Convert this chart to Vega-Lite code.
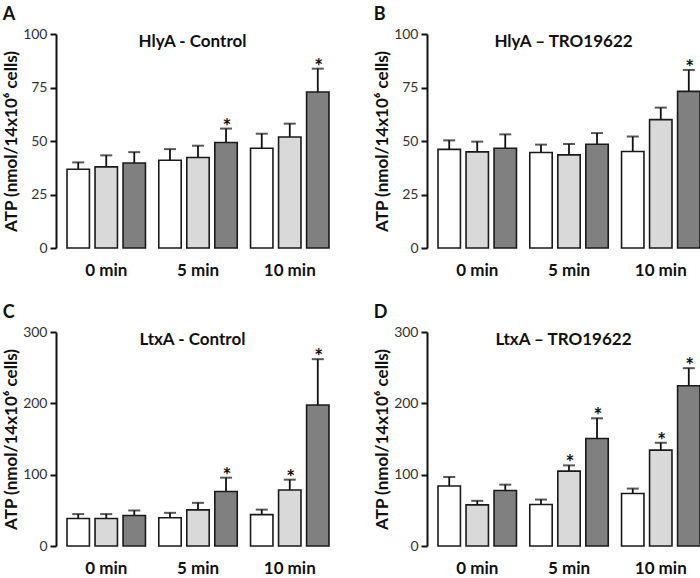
{
  "$schema": "https://vega.github.io/schema/vega-lite/v6.json",
  "padding": {"left": 2, "top": 6, "right": 0, "bottom": 0},
  "background": "white",
  "config": {
    "font": "Lato",
    "view": {"stroke": null},
    "axisY": {
      "domainColor": "#111111", "domainWidth": 2,
      "tickColor": "#111111", "tickWidth": 2, "tickSize": 6,
      "labelFontSize": 14, "labelColor": "#333333", "labelPadding": 3,
      "grid": false,
      "titleFontSize": 17, "titleFontWeight": "bold", "titleColor": "#111111", "titlePadding": 2
    },
    "axisX": {
      "domain": false, "ticks": false, "grid": false,
      "labelFontSize": 17, "labelFontWeight": "bold", "labelColor": "#111111",
      "labelPadding": 14, "labelAngle": 0, "title": null
    }
  },
  "data": {"values": [
    {"panel": "A", "time": "0 min", "series": 1, "value": 36.8, "err": 40.0, "star": false},
    {"panel": "A", "time": "0 min", "series": 2, "value": 37.9, "err": 43.3, "star": false},
    {"panel": "A", "time": "0 min", "series": 3, "value": 39.7, "err": 44.8, "star": false},
    {"panel": "A", "time": "5 min", "series": 1, "value": 41.0, "err": 46.2, "star": false},
    {"panel": "A", "time": "5 min", "series": 2, "value": 42.3, "err": 47.8, "star": false},
    {"panel": "A", "time": "5 min", "series": 3, "value": 49.3, "err": 55.8, "star": true},
    {"panel": "A", "time": "10 min", "series": 1, "value": 46.6, "err": 53.4, "star": false},
    {"panel": "A", "time": "10 min", "series": 2, "value": 51.9, "err": 58.1, "star": false},
    {"panel": "A", "time": "10 min", "series": 3, "value": 72.9, "err": 83.8, "star": true},
    {"panel": "B", "time": "0 min", "series": 1, "value": 46.1, "err": 50.3, "star": false},
    {"panel": "B", "time": "0 min", "series": 2, "value": 44.9, "err": 49.7, "star": false},
    {"panel": "B", "time": "0 min", "series": 3, "value": 46.6, "err": 53.1, "star": false},
    {"panel": "B", "time": "5 min", "series": 1, "value": 44.6, "err": 48.3, "star": false},
    {"panel": "B", "time": "5 min", "series": 2, "value": 43.5, "err": 48.6, "star": false},
    {"panel": "B", "time": "5 min", "series": 3, "value": 48.5, "err": 53.7, "star": false},
    {"panel": "B", "time": "10 min", "series": 1, "value": 45.1, "err": 52.1, "star": false},
    {"panel": "B", "time": "10 min", "series": 2, "value": 60.0, "err": 65.6, "star": false},
    {"panel": "B", "time": "10 min", "series": 3, "value": 73.2, "err": 83.2, "star": true},
    {"panel": "C", "time": "0 min", "series": 1, "value": 38.6, "err": 44.7, "star": false},
    {"panel": "C", "time": "0 min", "series": 2, "value": 38.6, "err": 44.7, "star": false},
    {"panel": "C", "time": "0 min", "series": 3, "value": 42.8, "err": 49.8, "star": false},
    {"panel": "C", "time": "5 min", "series": 1, "value": 39.5, "err": 46.5, "star": false},
    {"panel": "C", "time": "5 min", "series": 2, "value": 50.7, "err": 60.5, "star": false},
    {"panel": "C", "time": "5 min", "series": 3, "value": 76.3, "err": 95.8, "star": true},
    {"panel": "C", "time": "10 min", "series": 1, "value": 44.0, "err": 51.0, "star": false},
    {"panel": "C", "time": "10 min", "series": 2, "value": 78.6, "err": 93.0, "star": true},
    {"panel": "C", "time": "10 min", "series": 3, "value": 197.7, "err": 261.9, "star": true},
    {"panel": "D", "time": "0 min", "series": 1, "value": 84.2, "err": 96.7, "star": false},
    {"panel": "D", "time": "0 min", "series": 2, "value": 57.7, "err": 63.3, "star": false},
    {"panel": "D", "time": "0 min", "series": 3, "value": 77.7, "err": 86.0, "star": false},
    {"panel": "D", "time": "5 min", "series": 1, "value": 58.1, "err": 65.1, "star": false},
    {"panel": "D", "time": "5 min", "series": 2, "value": 105.0, "err": 113.0, "star": true},
    {"panel": "D", "time": "5 min", "series": 3, "value": 150.7, "err": 179.0, "star": true},
    {"panel": "D", "time": "10 min", "series": 1, "value": 73.5, "err": 80.5, "star": false},
    {"panel": "D", "time": "10 min", "series": 2, "value": 134.4, "err": 144.7, "star": true},
    {"panel": "D", "time": "10 min", "series": 3, "value": 224.7, "err": 249.3, "star": true}
  ]},
  "columns": 2,
  "spacing": {"column": 43, "row": 26},
  "concat": [
    {
      "title": {"text": "A", "anchor": "start", "fontSize": 18, "fontWeight": "bold", "color": "#111111", "offset": 3},
      "vconcat": [{
        "title": {"text": "HlyA - Control", "fontSize": 17, "fontWeight": "bold", "color": "#111111", "anchor": "middle", "frame": "group", "offset": -24},
        "width": 273, "height": 214,
        "transform": [{"filter": "datum.panel === 'A'"}],
        "encoding": {
          "x": {"field": "time", "type": "nominal", "sort": ["0 min", "5 min", "10 min"], "scale": {"paddingInner": 0.145, "paddingOuter": 0.06, "align": 1}},
          "xOffset": {"field": "series", "type": "nominal", "scale": {"paddingInner": 0.2}},
          "y": {"field": "value", "type": "quantitative", "scale": {"domain": [0, 100], "nice": false}, "axis": {"values": [0, 25, 50, 75, 100], "title": "ATP (nmol/14x10⁶ cells)"}}
        },
        "layer": [
          {"mark": {"type": "rule", "strokeWidth": 1.8, "color": "#111111"}, "encoding": {"y2": {"field": "err"}}},
          {"mark": {"type": "tick", "orient": "horizontal", "size": 12, "thickness": 2, "color": "#111111"}, "encoding": {"y": {"field": "err", "type": "quantitative"}}},
          {"mark": {"type": "bar", "stroke": "#1a1a1a", "strokeWidth": 1.6}, "encoding": {"fill": {"field": "series", "type": "nominal", "scale": {"range": ["#ffffff", "#d9d9d9", "#808080"]}, "legend": null}}},
          {"transform": [{"filter": "datum.star"}], "mark": {"type": "text", "text": "*", "fontSize": 21, "fontWeight": "bold", "baseline": "alphabetic", "dy": 5, "dx": 1, "color": "#111111"}, "encoding": {"y": {"field": "err", "type": "quantitative"}}}
        ]
      }]
    },
    {
      "title": {"text": "B", "anchor": "start", "fontSize": 18, "fontWeight": "bold", "color": "#111111", "offset": 3},
      "vconcat": [{
        "title": {"text": "HlyA – TRO19622", "fontSize": 17, "fontWeight": "bold", "color": "#111111", "anchor": "middle", "frame": "group", "offset": -24},
        "width": 273, "height": 214,
        "transform": [{"filter": "datum.panel === 'B'"}],
        "encoding": {
          "x": {"field": "time", "type": "nominal", "sort": ["0 min", "5 min", "10 min"], "scale": {"paddingInner": 0.145, "paddingOuter": 0.06, "align": 1}},
          "xOffset": {"field": "series", "type": "nominal", "scale": {"paddingInner": 0.2}},
          "y": {"field": "value", "type": "quantitative", "scale": {"domain": [0, 100], "nice": false}, "axis": {"values": [0, 25, 50, 75, 100], "title": "ATP (nmol/14x10⁶ cells)"}}
        },
        "layer": [
          {"mark": {"type": "rule", "strokeWidth": 1.8, "color": "#111111"}, "encoding": {"y2": {"field": "err"}}},
          {"mark": {"type": "tick", "orient": "horizontal", "size": 12, "thickness": 2, "color": "#111111"}, "encoding": {"y": {"field": "err", "type": "quantitative"}}},
          {"mark": {"type": "bar", "stroke": "#1a1a1a", "strokeWidth": 1.6}, "encoding": {"fill": {"field": "series", "type": "nominal", "scale": {"range": ["#ffffff", "#d9d9d9", "#808080"]}, "legend": null}}},
          {"transform": [{"filter": "datum.star"}], "mark": {"type": "text", "text": "*", "fontSize": 21, "fontWeight": "bold", "baseline": "alphabetic", "dy": 5, "dx": 1, "color": "#111111"}, "encoding": {"y": {"field": "err", "type": "quantitative"}}}
        ]
      }]
    },
    {
      "title": {"text": "C", "anchor": "start", "fontSize": 18, "fontWeight": "bold", "color": "#111111", "offset": 3},
      "vconcat": [{
        "title": {"text": "LtxA - Control", "fontSize": 17, "fontWeight": "bold", "color": "#111111", "anchor": "middle", "frame": "group", "offset": -24},
        "width": 273, "height": 214,
        "transform": [{"filter": "datum.panel === 'C'"}],
        "encoding": {
          "x": {"field": "time", "type": "nominal", "sort": ["0 min", "5 min", "10 min"], "scale": {"paddingInner": 0.145, "paddingOuter": 0.06, "align": 1}},
          "xOffset": {"field": "series", "type": "nominal", "scale": {"paddingInner": 0.2}},
          "y": {"field": "value", "type": "quantitative", "scale": {"domain": [0, 300], "nice": false}, "axis": {"values": [0, 100, 200, 300], "title": "ATP (nmol/14x10⁶ cells)"}}
        },
        "layer": [
          {"mark": {"type": "rule", "strokeWidth": 1.8, "color": "#111111"}, "encoding": {"y2": {"field": "err"}}},
          {"mark": {"type": "tick", "orient": "horizontal", "size": 12, "thickness": 2, "color": "#111111"}, "encoding": {"y": {"field": "err", "type": "quantitative"}}},
          {"mark": {"type": "bar", "stroke": "#1a1a1a", "strokeWidth": 1.6}, "encoding": {"fill": {"field": "series", "type": "nominal", "scale": {"range": ["#ffffff", "#d9d9d9", "#808080"]}, "legend": null}}},
          {"transform": [{"filter": "datum.star"}], "mark": {"type": "text", "text": "*", "fontSize": 21, "fontWeight": "bold", "baseline": "alphabetic", "dy": 5, "dx": 1, "color": "#111111"}, "encoding": {"y": {"field": "err", "type": "quantitative"}}}
        ]
      }]
    },
    {
      "title": {"text": "D", "anchor": "start", "fontSize": 18, "fontWeight": "bold", "color": "#111111", "offset": 3},
      "vconcat": [{
        "title": {"text": "LtxA – TRO19622", "fontSize": 17, "fontWeight": "bold", "color": "#111111", "anchor": "middle", "frame": "group", "offset": -24},
        "width": 273, "height": 214,
        "transform": [{"filter": "datum.panel === 'D'"}],
        "encoding": {
          "x": {"field": "time", "type": "nominal", "sort": ["0 min", "5 min", "10 min"], "scale": {"paddingInner": 0.145, "paddingOuter": 0.06, "align": 1}},
          "xOffset": {"field": "series", "type": "nominal", "scale": {"paddingInner": 0.2}},
          "y": {"field": "value", "type": "quantitative", "scale": {"domain": [0, 300], "nice": false}, "axis": {"values": [0, 100, 200, 300], "title": "ATP (nmol/14x10⁶ cells)"}}
        },
        "layer": [
          {"mark": {"type": "rule", "strokeWidth": 1.8, "color": "#111111"}, "encoding": {"y2": {"field": "err"}}},
          {"mark": {"type": "tick", "orient": "horizontal", "size": 12, "thickness": 2, "color": "#111111"}, "encoding": {"y": {"field": "err", "type": "quantitative"}}},
          {"mark": {"type": "bar", "stroke": "#1a1a1a", "strokeWidth": 1.6}, "encoding": {"fill": {"field": "series", "type": "nominal", "scale": {"range": ["#ffffff", "#d9d9d9", "#808080"]}, "legend": null}}},
          {"transform": [{"filter": "datum.star"}], "mark": {"type": "text", "text": "*", "fontSize": 21, "fontWeight": "bold", "baseline": "alphabetic", "dy": 5, "dx": 1, "color": "#111111"}, "encoding": {"y": {"field": "err", "type": "quantitative"}}}
        ]
      }]
    }
  ]
}
